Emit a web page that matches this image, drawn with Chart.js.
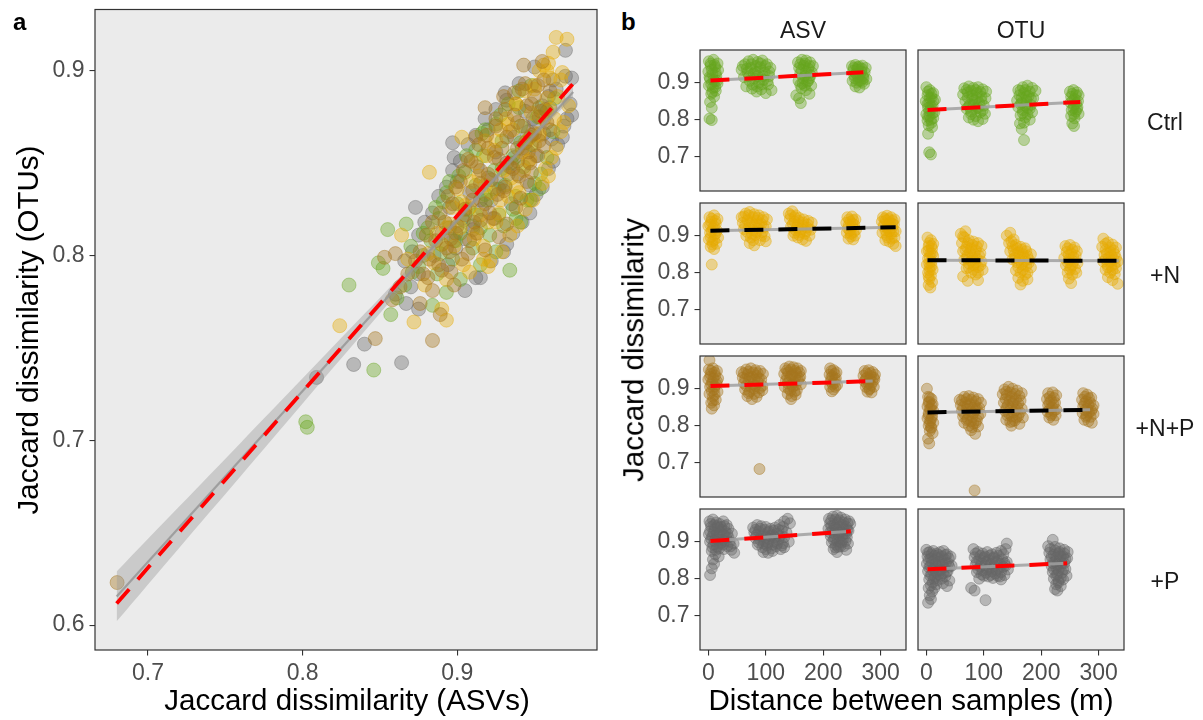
<!DOCTYPE html>
<html><head><meta charset="utf-8">
<script src="https://cdn.jsdelivr.net/npm/chart.js@4.4.0/dist/chart.umd.min.js"></script>
<style>
html,body{margin:0;padding:0;}
body{width:1203px;height:720px;background:#fff;position:relative;overflow:hidden;font-family:'Liberation Sans',Arial,Helvetica,sans-serif;}
canvas{position:absolute;}
.t{position:absolute;white-space:nowrap;line-height:1;z-index:5;}
.c{transform:translate(-50%,-50%);}
.r{transform:translate(-50%,-50%) rotate(-90deg);}
</style></head><body>
<div class="t" style="left:13px;top:9.7px;font-size:24px;font-weight:bold;color:#000;">a</div>
<div class="t" style="left:621px;top:9.5px;font-size:24px;font-weight:bold;color:#000;">b</div>
<div class="t c" style="left:347px;top:700px;font-size:29.5px;color:#000;">Jaccard dissimilarity (ASVs)</div>
<div class="t r" style="left:28px;top:330px;font-size:29.5px;color:#000;">Jaccard dissimilarity (OTUs)</div>
<div class="t r" style="left:633px;top:350px;font-size:29.5px;color:#000;">Jaccard dissimilarity</div>
<div class="t c" style="left:911px;top:700px;font-size:29.5px;color:#000;">Distance between samples (m)</div>
<div id="strips"></div>
<script>
// ---------------- labels ----------------
const markers = ['ASV', 'OTU'];
const treatments = ['Ctrl', '+N', '+N+P', '+P'];
const aXTicks = [0.7, 0.8, 0.9];
const aXTickLabels = ['0.7', '0.8', '0.9'];
const aYTicks = [0.6, 0.7, 0.8, 0.9];
const aYTickLabels = ['0.6', '0.7', '0.8', '0.9'];
const bXTicks = [0, 100, 200, 300];
const bXTickLabels = ['0', '100', '200', '300'];
const bYTicks = [0.7, 0.8, 0.9];
const bYTickLabels = ['0.7', '0.8', '0.9'];

// ---------------- panel a: [ASV, OTU] ----------------
const aCtrl = [[0.802,0.710],[0.803,0.707],[0.846,0.738],[0.830,0.784],[0.852,0.793],[0.849,0.796],[0.855,0.814],[0.867,0.817],[0.857,0.768],[0.934,0.792],[0.947,0.830],[0.953,0.836],[0.938,0.820],
 [0.861,0.777],[0.884,0.773],[0.866,0.784],[0.893,0.780],[0.871,0.791],[0.902,0.787],[0.887,0.790],[0.875,0.794],[0.897,0.798],[0.915,0.795],[0.870,0.805],[0.889,0.801],[0.910,0.804],[0.925,0.802],
 [0.878,0.812],[0.899,0.808],[0.921,0.811],[0.881,0.815],[0.904,0.819],[0.930,0.816],[0.941,0.818],[0.886,0.826],[0.912,0.822],[0.936,0.825],[0.891,0.829],[0.918,0.833],[0.945,0.830],
 [0.895,0.840],[0.924,0.836],[0.950,0.839],[0.901,0.843],[0.929,0.847],[0.954,0.844],[0.906,0.854],[0.935,0.850],[0.958,0.853],[0.912,0.857],[0.941,0.861],[0.918,0.868],[0.947,0.864],[0.962,0.867],
 [0.925,0.871],[0.952,0.875],[0.933,0.882],[0.958,0.878],[0.940,0.889],[0.963,0.885],[0.948,0.892],
 [0.893,0.834],[0.905,0.845],[0.917,0.854],[0.929,0.862],[0.941,0.870],[0.953,0.880],[0.888,0.820],[0.900,0.828],[0.912,0.838],[0.924,0.846],[0.936,0.854],[0.948,0.860],[0.883,0.808],[0.895,0.815],
 [0.907,0.825],[0.919,0.830],[0.931,0.838],[0.943,0.848],[0.878,0.800],[0.890,0.806],[0.902,0.812],[0.915,0.815],[0.927,0.822],[0.938,0.832],[0.916,0.866],[0.928,0.876],[0.940,0.880]];
const aN = [[0.964,0.918],[0.971,0.917],[0.953,0.900],[0.958,0.900],[0.959,0.904],[0.959,0.843],[0.903,0.864],[0.882,0.845],[0.864,0.811],[0.920,0.794],[0.917,0.798],[0.890,0.771],[0.893,0.765],[0.872,0.764],[0.824,0.762],
 [0.879,0.784],[0.893,0.787],[0.908,0.791],[0.868,0.798],[0.904,0.795],[0.921,0.797],[0.881,0.801],[0.917,0.805],[0.929,0.802],[0.887,0.812],[0.911,0.809],[0.934,0.811],
 [0.893,0.815],[0.920,0.818],[0.939,0.816],[0.897,0.826],[0.927,0.823],[0.944,0.825],[0.903,0.829],[0.933,0.832],[0.949,0.830],[0.909,0.840],[0.938,0.837],[0.955,0.839],
 [0.914,0.843],[0.943,0.846],[0.957,0.847],[0.919,0.854],[0.946,0.851],[0.961,0.853],[0.924,0.857],[0.950,0.860],[0.964,0.858],[0.928,0.868],[0.953,0.865],[0.967,0.867],
 [0.933,0.871],[0.956,0.874],[0.969,0.872],[0.938,0.882],[0.960,0.879],[0.972,0.881],[0.944,0.889],[0.965,0.886],[0.950,0.892],[0.967,0.895],[0.956,0.903],[0.968,0.899],[0.962,0.910],
 [0.900,0.836],[0.912,0.850],[0.925,0.862],[0.936,0.868],[0.948,0.877],[0.958,0.885],[0.905,0.827],[0.918,0.838],[0.930,0.846],[0.942,0.856],[0.953,0.866],[0.963,0.874],[0.895,0.817],[0.908,0.826],
 [0.922,0.834],[0.935,0.842],[0.947,0.852],[0.890,0.806],[0.902,0.815],[0.915,0.822],[0.928,0.830],[0.940,0.834],[0.885,0.796],[0.898,0.805],[0.912,0.812],[0.925,0.818],[0.938,0.882],[0.950,0.890],
 [0.960,0.896],[0.945,0.862],[0.932,0.874],[0.918,0.862]];
const aNP = [[0.680,0.623],[0.847,0.755],[0.884,0.754],[0.853,0.799],[0.860,0.801],[0.889,0.768],[0.943,0.903],[0.955,0.905],
 [0.858,0.776],[0.876,0.774],[0.863,0.783],[0.884,0.781],[0.898,0.784],[0.868,0.790],[0.881,0.788],[0.896,0.791],[0.873,0.797],[0.888,0.795],[0.903,0.798],
 [0.876,0.802],[0.893,0.804],[0.907,0.801],[0.918,0.803],[0.880,0.811],[0.896,0.809],[0.913,0.812],[0.927,0.810],[0.884,0.818],[0.900,0.816],[0.915,0.819],[0.932,0.817],
 [0.889,0.823],[0.905,0.825],[0.921,0.823],[0.938,0.826],[0.894,0.832],[0.910,0.830],[0.926,0.833],[0.941,0.831],[0.899,0.837],[0.915,0.839],[0.931,0.837],[0.945,0.840],
 [0.904,0.846],[0.920,0.844],[0.936,0.847],[0.948,0.845],[0.909,0.851],[0.924,0.853],[0.939,0.851],[0.952,0.854],[0.914,0.860],[0.929,0.858],[0.944,0.861],[0.956,0.859],
 [0.919,0.865],[0.934,0.867],[0.948,0.865],[0.960,0.868],[0.925,0.874],[0.939,0.872],[0.953,0.875],[0.931,0.879],[0.945,0.881],[0.957,0.879],[0.937,0.888],[0.950,0.886],[0.960,0.889],[0.944,0.893],[0.956,0.895],
 [0.892,0.818],[0.905,0.822],[0.918,0.828],[0.930,0.835],[0.940,0.843],[0.897,0.828],[0.910,0.835],[0.922,0.841],[0.934,0.848],[0.946,0.856],[0.902,0.840],[0.915,0.846],[0.927,0.852],[0.939,0.858],
 [0.950,0.866],[0.907,0.852],[0.920,0.858],[0.932,0.864],[0.943,0.870],[0.954,0.878],[0.912,0.864],[0.925,0.870],[0.937,0.876],[0.948,0.882],[0.886,0.808],[0.899,0.812],[0.911,0.818],[0.924,0.820],
 [0.882,0.798],[0.895,0.802],[0.908,0.808],[0.878,0.790],[0.890,0.792],[0.918,0.880],[0.930,0.886],[0.942,0.890],[0.952,0.892],[0.958,0.872],[0.953,0.862],[0.947,0.850]];
const aP = [[0.809,0.734],[0.833,0.741],[0.864,0.742],[0.840,0.752],[0.875,0.771],[0.867,0.774],[0.860,0.779],[0.873,0.826],[0.897,0.861],[0.898,0.853],[0.915,0.788],[0.932,0.806],[0.948,0.830],[0.970,0.911],[0.974,0.896],[0.970,0.897],[0.974,0.876],[0.969,0.870],[0.968,0.864],[0.961,0.863],
 [0.870,0.783],[0.905,0.781],[0.875,0.790],[0.912,0.788],[0.866,0.797],[0.894,0.795],[0.922,0.797],[0.871,0.802],[0.899,0.804],[0.930,0.802],[0.875,0.811],[0.905,0.809],[0.936,0.812],
 [0.879,0.818],[0.910,0.816],[0.942,0.818],[0.884,0.823],[0.916,0.825],[0.947,0.823],[0.888,0.832],[0.922,0.830],[0.951,0.833],[0.893,0.837],[0.928,0.839],[0.955,0.837],
 [0.897,0.846],[0.933,0.844],[0.959,0.847],[0.902,0.851],[0.937,0.853],[0.962,0.851],[0.907,0.860],[0.942,0.858],[0.965,0.860],[0.912,0.865],[0.946,0.867],
 [0.918,0.874],[0.950,0.872],[0.971,0.874],[0.925,0.879],[0.955,0.881],[0.973,0.882],[0.931,0.888],[0.959,0.886],[0.940,0.893],[0.962,0.895],[0.950,0.902],
 [0.895,0.826],[0.908,0.834],[0.920,0.842],[0.932,0.850],[0.944,0.858],[0.956,0.866],[0.900,0.840],[0.913,0.848],[0.925,0.856],[0.937,0.864],[0.949,0.874],[0.960,0.880],[0.890,0.812],[0.903,0.820],
 [0.915,0.830],[0.927,0.836],[0.939,0.844],[0.951,0.854],[0.885,0.800],[0.898,0.808],[0.910,0.814],[0.923,0.820],[0.935,0.828],[0.947,0.838],[0.920,0.868],[0.932,0.884],[0.944,0.878],[0.964,0.890]];
// fitted lines and confidence band (panel a)
const aRedLine = [[0.6797,0.6117],[0.975,0.893]];
const aGreyLine = [[0.6797,0.6155],[0.975,0.8885]];
const aBandX = [0.6797,0.72,0.76,0.80,0.84,0.88,0.915,0.95,0.975];
const aBandUpper = [0.6290,0.6640,0.6987,0.7335,0.7684,0.8034,0.8345,0.8672,0.8913];
const aBandLower = [0.6020,0.6416,0.6807,0.7199,0.7590,0.7980,0.8315,0.8636,0.8857];

// ---------------- panel b: [distance (m), Jaccard] ----------------
const bCtrlASV = [[1,0.958],[9,0.962],[16,0.952],[4,0.946],[12,0.942],[17,0.934],[0,0.930],[7,0.924],[14,0.918],[3,0.910],[11,0.904],[16,0.898],[1,0.892],[8,0.886],[13,0.878],[5,0.870],[10,0.862],[3,0.848],[6,0.832],[2,0.803],[6,0.799],
 [4,0.952],[11,0.948],[6,0.935],[13,0.926],[2,0.915],[9,0.908],[15,0.905],[5,0.896],[12,0.888],[7,0.875],
 [58,0.935],[64,0.950],[70,0.958],[78,0.962],[86,0.956],[94,0.960],[102,0.950],[108,0.940],[62,0.915],[68,0.928],[74,0.940],[82,0.930],[90,0.942],[98,0.928],[106,0.918],[72,0.905],[80,0.912],[88,0.900],[96,0.908],[104,0.895],[66,0.890],[76,0.884],[84,0.876],[92,0.882],[100,0.872],[110,0.880],[86,0.918],
 [60,0.945],[67,0.938],[75,0.950],[83,0.945],[91,0.952],[99,0.945],[106,0.930],[71,0.918],[79,0.925],[87,0.930],[95,0.918],[103,0.905],[77,0.895],[85,0.890],[93,0.895],
 [156,0.955],[163,0.962],[170,0.960],[177,0.955],[182,0.945],[158,0.940],[166,0.946],[174,0.938],[180,0.928],[160,0.925],[168,0.918],[176,0.912],[157,0.905],[164,0.898],[172,0.902],[179,0.892],[162,0.885],[170,0.880],[176,0.870],[153,0.866],[158,0.858],[161,0.845],
 [160,0.950],[168,0.952],[176,0.945],[162,0.935],[170,0.930],[178,0.920],[165,0.912],[174,0.905],[160,0.895],[168,0.892],
 [250,0.945],[256,0.948],[262,0.944],[268,0.946],[274,0.940],[252,0.932],[259,0.936],[266,0.930],[272,0.928],[254,0.920],[261,0.915],[269,0.918],[275,0.910],[251,0.905],[258,0.900],[265,0.905],[271,0.897],[256,0.890],[263,0.887],
 [253,0.940],[260,0.942],[267,0.938],[257,0.925],[264,0.922],[270,0.912],[255,0.912],[262,0.905],[268,0.902]];
const bCtrlOTU = [[0,0.888],[6,0.880],[12,0.872],[2,0.866],[9,0.860],[15,0.854],[-1,0.850],[5,0.845],[11,0.838],[3,0.832],[8,0.826],[14,0.820],[0,0.815],[6,0.810],[12,0.804],[2,0.798],[9,0.792],[4,0.785],[10,0.780],[3,0.762],[5,0.712],[8,0.706],
 [3,0.876],[9,0.870],[6,0.858],[12,0.850],[2,0.842],[8,0.836],[5,0.824],[11,0.818],[3,0.808],[8,0.800],
 [66,0.885],[74,0.890],[82,0.886],[90,0.888],[98,0.882],[104,0.876],[64,0.868],[72,0.874],[80,0.866],[88,0.872],[96,0.862],[103,0.858],[68,0.850],[76,0.842],[84,0.852],[92,0.845],[100,0.838],[70,0.830],[78,0.822],[86,0.830],[94,0.820],[102,0.816],[74,0.806],[82,0.800],[90,0.796],[98,0.802],
 [70,0.880],[78,0.878],[86,0.880],[94,0.875],[72,0.860],[80,0.856],[88,0.858],[96,0.850],[74,0.836],[82,0.840],[90,0.832],[98,0.825],[78,0.815],[86,0.810],
 [160,0.880],[168,0.888],[176,0.892],[184,0.886],[190,0.878],[162,0.866],[170,0.872],[178,0.864],[186,0.858],[158,0.852],[166,0.846],[174,0.852],[182,0.840],[160,0.834],[168,0.826],[176,0.832],[184,0.820],[164,0.812],[172,0.806],[180,0.800],[170,0.792],[163,0.790],[166,0.775],[170,0.745],
 [164,0.878],[172,0.880],[180,0.876],[166,0.858],[174,0.862],[182,0.856],[164,0.842],[172,0.838],[180,0.830],[168,0.818],[176,0.815],
 [250,0.876],[256,0.880],[262,0.874],[265,0.866],[252,0.862],[258,0.856],[264,0.850],[251,0.846],[257,0.840],[263,0.834],[253,0.826],[260,0.822],[265,0.816],[252,0.810],[258,0.804],[254,0.790],[257,0.783],
 [254,0.870],[260,0.866],[255,0.852],[261,0.844],[256,0.832],[262,0.828],[257,0.815]];
const bNASV = [[2,0.950],[10,0.955],[16,0.945],[5,0.938],[13,0.932],[0,0.926],[8,0.920],[15,0.914],[3,0.908],[11,0.902],[17,0.895],[1,0.890],[7,0.884],[14,0.878],[4,0.870],[10,0.864],[6,0.822],
 [6,0.946],[12,0.940],[3,0.930],[10,0.925],[6,0.912],[13,0.906],[4,0.896],[10,0.888],[7,0.876],
 [58,0.950],[65,0.960],[72,0.964],[80,0.958],[88,0.955],[96,0.950],[102,0.944],[60,0.935],[68,0.942],[76,0.935],[84,0.940],[92,0.932],[100,0.925],[62,0.918],[70,0.922],[78,0.915],[86,0.920],[94,0.910],[66,0.900],[74,0.895],[82,0.902],[90,0.888],[98,0.898],[72,0.880],[80,0.874],[100,0.885],
 [62,0.952],[70,0.955],[78,0.950],[86,0.948],[94,0.942],[64,0.928],[72,0.932],[80,0.928],[88,0.930],[96,0.922],[68,0.910],[76,0.905],[84,0.910],[92,0.900],[78,0.888],
 [140,0.960],[146,0.966],[152,0.955],[158,0.948],[166,0.944],[174,0.940],[180,0.935],[142,0.945],[150,0.938],[156,0.930],[164,0.928],[172,0.922],[178,0.916],[144,0.925],[152,0.915],[160,0.910],[168,0.905],[176,0.900],[148,0.900],[156,0.895],[164,0.890],[170,0.886],
 [143,0.955],[150,0.950],[157,0.940],[165,0.936],[173,0.930],[147,0.932],[154,0.922],[162,0.918],[170,0.912],[150,0.908],[158,0.902],
 [242,0.950],[250,0.952],[256,0.944],[240,0.935],[247,0.938],[254,0.930],[243,0.920],[250,0.924],[257,0.916],[241,0.908],[248,0.905],[255,0.900],[244,0.892],[252,0.890],
 [245,0.944],[252,0.942],[244,0.928],[251,0.932],[246,0.914],[253,0.910],[248,0.898],
 [304,0.950],[311,0.954],[318,0.950],[324,0.944],[302,0.938],[309,0.942],[316,0.936],[323,0.930],[305,0.925],[312,0.920],[320,0.922],[326,0.912],[303,0.908],[310,0.902],[318,0.905],[324,0.895],[308,0.888],[315,0.884],[322,0.878],[326,0.872],
 [307,0.946],[314,0.945],[321,0.940],[306,0.930],[313,0.930],[320,0.932],[308,0.915],[315,0.912],[322,0.912],[312,0.895],[319,0.892]];
const bNOTU = [[2,0.895],[8,0.888],[12,0.878],[4,0.872],[10,0.865],[1,0.858],[7,0.852],[12,0.845],[3,0.838],[9,0.830],[1,0.822],[6,0.815],[11,0.808],[3,0.800],[8,0.792],[5,0.783],[10,0.775],[4,0.767],[7,0.760],
 [5,0.880],[9,0.872],[4,0.860],[10,0.852],[6,0.842],[5,0.826],[9,0.818],[6,0.806],[4,0.790],
 [60,0.905],[68,0.912],[66,0.895],[74,0.888],[82,0.884],[90,0.880],[96,0.872],[62,0.880],[70,0.870],[78,0.866],[86,0.860],[94,0.852],[64,0.858],[72,0.848],[80,0.842],[88,0.838],[96,0.830],[66,0.835],[74,0.825],[82,0.820],[90,0.815],[98,0.808],[70,0.812],[78,0.800],[86,0.795],[64,0.790],[72,0.778],[90,0.780],
 [64,0.898],[72,0.880],[80,0.875],[88,0.870],[68,0.862],[76,0.856],[84,0.850],[92,0.845],[70,0.840],[78,0.832],[86,0.828],[94,0.820],[74,0.815],[82,0.808],[90,0.800],
 [140,0.900],[146,0.908],[152,0.890],[144,0.880],[150,0.872],[158,0.866],[166,0.862],[174,0.858],[182,0.850],[146,0.858],[154,0.850],[162,0.846],[170,0.842],[178,0.836],[150,0.836],[158,0.828],[166,0.822],[174,0.818],[182,0.814],[156,0.806],[164,0.800],[172,0.795],[160,0.786],[168,0.778],[176,0.782],[164,0.768],
 [148,0.885],[156,0.875],[164,0.870],[172,0.866],[152,0.860],[160,0.855],[168,0.850],[176,0.845],[154,0.840],[162,0.835],[170,0.830],[178,0.826],[160,0.815],[168,0.808],[176,0.800],
 [242,0.872],[250,0.875],[258,0.868],[262,0.858],[244,0.856],[252,0.852],[260,0.846],[240,0.840],[248,0.835],[256,0.830],[263,0.826],[243,0.820],[251,0.815],[259,0.810],[246,0.800],[254,0.795],[261,0.800],[248,0.784],[252,0.772],
 [246,0.866],[254,0.862],[248,0.848],[256,0.842],[246,0.828],[254,0.820],[250,0.808],
 [308,0.892],[316,0.882],[324,0.876],[330,0.868],[306,0.870],[312,0.862],[320,0.856],[328,0.850],[310,0.848],[318,0.842],[326,0.836],[333,0.830],[308,0.830],[315,0.822],[322,0.818],[330,0.812],[312,0.808],[320,0.800],[328,0.796],[316,0.788],[324,0.780],[333,0.770],
 [312,0.878],[320,0.868],[326,0.860],[314,0.852],[322,0.846],[330,0.840],[312,0.836],[320,0.830],[328,0.824],[316,0.815],[324,0.808]];
const bNPASV = [[2,0.977],[1,0.952],[8,0.955],[15,0.948],[4,0.940],[12,0.936],[17,0.928],[0,0.925],[7,0.918],[14,0.912],[3,0.905],[10,0.898],[16,0.892],[2,0.886],[8,0.878],[13,0.870],[5,0.862],[10,0.855],[6,0.846],
 [5,0.948],[11,0.944],[3,0.932],[9,0.928],[15,0.920],[5,0.912],[11,0.906],[6,0.894],[11,0.884],[8,0.868],
 [58,0.945],[66,0.952],[74,0.955],[82,0.950],[90,0.948],[95,0.940],[60,0.930],[68,0.938],[76,0.932],[84,0.935],[92,0.925],[62,0.915],[70,0.920],[78,0.912],[86,0.918],[94,0.908],[64,0.898],[72,0.892],[80,0.900],[88,0.890],[94,0.896],[68,0.880],[76,0.872],[84,0.878],[89,0.683],
 [62,0.942],[70,0.946],[78,0.944],[86,0.942],[64,0.926],[72,0.930],[80,0.925],[88,0.928],[66,0.908],[74,0.905],[82,0.908],[90,0.902],[70,0.888],[80,0.886],
 [134,0.955],[141,0.960],[148,0.958],[155,0.955],[161,0.948],[132,0.940],[139,0.944],[146,0.938],[153,0.942],[160,0.932],[135,0.922],[142,0.926],[149,0.918],[156,0.922],[161,0.912],[133,0.905],[140,0.900],[147,0.905],[154,0.896],[138,0.886],[145,0.880],[152,0.884],[144,0.872],
 [137,0.950],[144,0.952],[151,0.948],[158,0.944],[137,0.932],[144,0.935],[151,0.930],[158,0.928],[138,0.915],[145,0.912],[152,0.910],[143,0.895],[150,0.892],
 [212,0.955],[218,0.950],[223,0.944],[211,0.938],[216,0.934],[222,0.928],[213,0.920],[219,0.915],[224,0.910],[212,0.905],[218,0.898],[215,0.893],
 [214,0.948],[220,0.940],[214,0.930],[220,0.925],[216,0.912],[221,0.905],
 [272,0.948],[279,0.950],[286,0.945],[290,0.938],[270,0.935],[276,0.930],[283,0.934],[289,0.925],[272,0.920],[279,0.915],[286,0.918],[274,0.905],[281,0.900],[288,0.905],[277,0.892],[284,0.890],
 [275,0.942],[282,0.942],[274,0.926],[281,0.926],[288,0.930],[276,0.912],[283,0.910],[280,0.898]];
const bNPOTU = [[1,0.900],[3,0.878],[9,0.872],[5,0.865],[11,0.858],[2,0.852],[8,0.846],[12,0.840],[4,0.834],[10,0.826],[2,0.820],[7,0.814],[12,0.808],[4,0.800],[9,0.794],[6,0.786],[11,0.780],[3,0.765],[5,0.752],
 [6,0.876],[4,0.862],[9,0.855],[6,0.845],[4,0.828],[9,0.820],[6,0.808],[8,0.796],
 [58,0.870],[66,0.878],[74,0.880],[82,0.876],[90,0.872],[95,0.862],[60,0.856],[68,0.862],[76,0.858],[84,0.855],[92,0.848],[62,0.840],[70,0.845],[78,0.838],[86,0.842],[94,0.832],[64,0.825],[72,0.818],[80,0.824],[88,0.815],[66,0.808],[74,0.800],[82,0.806],[90,0.798],[78,0.788],[85,0.778],[84,0.625],
 [62,0.868],[70,0.872],[78,0.870],[86,0.866],[64,0.850],[72,0.854],[80,0.848],[88,0.846],[66,0.832],[74,0.830],[82,0.834],[90,0.826],[70,0.815],[78,0.812],[86,0.808],[80,0.796],
 [136,0.898],[143,0.905],[150,0.900],[158,0.895],[166,0.888],[133,0.885],[140,0.882],[148,0.878],[156,0.872],[164,0.868],[135,0.862],[142,0.856],[150,0.860],[158,0.850],[166,0.846],[137,0.840],[144,0.832],[152,0.836],[160,0.826],[168,0.822],[139,0.816],[146,0.810],[154,0.814],[162,0.805],[148,0.800],
 [139,0.892],[146,0.890],[154,0.886],[162,0.880],[138,0.872],[145,0.868],[152,0.866],[160,0.860],[140,0.850],[147,0.846],[155,0.842],[163,0.836],[141,0.828],[149,0.825],[157,0.822],[150,0.812],
 [212,0.888],[220,0.890],[226,0.882],[210,0.872],[217,0.868],[224,0.862],[212,0.855],[219,0.850],[226,0.844],[211,0.838],[218,0.832],[225,0.828],[214,0.822],[221,0.816],
 [215,0.878],[222,0.875],[214,0.862],[221,0.858],[215,0.845],[222,0.840],[217,0.828],
 [273,0.888],[280,0.884],[287,0.876],[271,0.870],[278,0.866],[285,0.862],[291,0.855],[273,0.852],[280,0.846],[287,0.840],[272,0.834],[279,0.828],[286,0.824],[291,0.832],[275,0.816],[282,0.812],[288,0.808],
 [276,0.878],[283,0.874],[275,0.860],[282,0.856],[289,0.846],[276,0.842],[283,0.836],[278,0.824]];
const bPASV = [[2,0.955],[8,0.960],[14,0.952],[20,0.948],[26,0.955],[32,0.945],[5,0.940],[11,0.934],[17,0.938],[23,0.932],[29,0.928],[35,0.935],[41,0.922],[1,0.920],[7,0.915],[13,0.910],[19,0.918],[25,0.905],[31,0.912],[37,0.900],[44,0.895],[3,0.900],[9,0.892],[15,0.886],[21,0.894],[27,0.880],[33,0.888],[40,0.878],[6,0.875],[12,0.866],[18,0.860],[45,0.870],[8,0.852],[10,0.840],[3,0.810],[6,0.828],
 [4,0.948],[10,0.945],[16,0.942],[22,0.940],[28,0.942],[3,0.928],[9,0.925],[15,0.922],[21,0.925],[27,0.918],[33,0.922],[5,0.908],[11,0.902],[17,0.905],[23,0.898],[29,0.902],[35,0.912],[7,0.885],[13,0.878],[19,0.882],[25,0.892],[39,0.888],
 [78,0.938],[85,0.945],[92,0.942],[100,0.940],[108,0.935],[116,0.938],[124,0.945],[132,0.955],[138,0.962],[142,0.950],[80,0.925],[88,0.928],[96,0.920],[104,0.925],[112,0.918],[120,0.922],[128,0.930],[136,0.925],[82,0.910],[90,0.905],[98,0.902],[106,0.908],[114,0.900],[122,0.905],[130,0.896],[140,0.900],[86,0.892],[94,0.885],[102,0.890],[110,0.882],[118,0.888],[126,0.880],[96,0.872],[104,0.870],[132,0.885],
 [82,0.932],[90,0.935],[98,0.932],[106,0.928],[114,0.930],[122,0.932],[130,0.940],[84,0.918],[92,0.915],[100,0.912],[108,0.915],[116,0.912],[124,0.915],[132,0.912],[88,0.898],[96,0.895],[104,0.898],[112,0.892],[120,0.895],[128,0.890],[100,0.880],[112,0.875],
 [210,0.962],[217,0.968],[224,0.970],[231,0.965],[238,0.960],[245,0.955],[212,0.950],[219,0.945],[226,0.952],[233,0.945],[240,0.940],[247,0.948],[209,0.935],[216,0.930],[223,0.935],[230,0.928],[237,0.922],[244,0.930],[213,0.915],[220,0.910],[227,0.918],[234,0.905],[241,0.912],[215,0.898],[222,0.892],[229,0.900],[236,0.888],[243,0.895],[218,0.880],[224,0.872],[226,0.886],[240,0.878],
 [214,0.958],[221,0.960],[228,0.958],[235,0.952],[242,0.950],[214,0.942],[221,0.938],[228,0.940],[235,0.935],[242,0.932],[212,0.925],[219,0.922],[226,0.925],[233,0.918],[240,0.922],[218,0.905],[225,0.902],[232,0.898],[239,0.902],[221,0.885],[230,0.888]];
const bPOTU = [[0,0.878],[6,0.872],[12,0.875],[18,0.868],[24,0.872],[30,0.875],[36,0.866],[42,0.860],[2,0.860],[8,0.855],[14,0.850],[20,0.856],[26,0.848],[32,0.852],[38,0.842],[44,0.835],[1,0.840],[7,0.835],[13,0.828],[19,0.832],[25,0.824],[31,0.830],[37,0.820],[3,0.820],[9,0.812],[15,0.806],[21,0.812],[27,0.800],[33,0.806],[40,0.795],[5,0.798],[11,0.790],[17,0.785],[29,0.788],[36,0.780],[4,0.775],[10,0.765],[6,0.755],[8,0.745],[3,0.735],
 [3,0.870],[9,0.866],[15,0.862],[21,0.864],[27,0.860],[33,0.864],[39,0.855],[4,0.850],[10,0.845],[16,0.840],[22,0.845],[28,0.838],[34,0.842],[40,0.832],[5,0.830],[11,0.822],[17,0.818],[23,0.822],[29,0.815],[35,0.818],[7,0.808],[13,0.800],[19,0.796],[25,0.808],[8,0.782],[14,0.775],
 [82,0.880],[90,0.872],[98,0.868],[106,0.872],[114,0.866],[122,0.870],[130,0.875],[138,0.880],[140,0.895],[84,0.858],[92,0.852],[100,0.856],[108,0.850],[116,0.855],[124,0.848],[132,0.852],[140,0.845],[86,0.838],[94,0.832],[102,0.836],[110,0.830],[118,0.834],[126,0.828],[134,0.832],[142,0.825],[88,0.818],[96,0.812],[104,0.816],[112,0.810],[120,0.814],[128,0.806],[136,0.810],[92,0.800],[116,0.802],[78,0.775],[84,0.768],[103,0.742],[130,0.798],
 [86,0.868],[94,0.862],[102,0.860],[110,0.862],[118,0.858],[126,0.862],[134,0.866],[88,0.846],[96,0.842],[104,0.845],[112,0.840],[120,0.845],[128,0.840],[136,0.842],[90,0.826],[98,0.822],[106,0.825],[114,0.820],[122,0.824],[130,0.818],[138,0.835],[100,0.808],[108,0.806],[124,0.808],
 [220,0.905],[212,0.888],[224,0.886],[232,0.882],[240,0.878],[246,0.872],[214,0.870],[222,0.865],[230,0.868],[238,0.860],[245,0.855],[216,0.852],[224,0.846],[232,0.850],[240,0.842],[218,0.835],[226,0.830],[234,0.834],[242,0.826],[220,0.818],[228,0.812],[236,0.816],[244,0.808],[222,0.800],[230,0.795],[238,0.798],[226,0.785],[234,0.780],[224,0.772],[228,0.768],
 [216,0.880],[224,0.876],[232,0.872],[240,0.868],[218,0.860],[226,0.856],[234,0.860],[242,0.852],[220,0.842],[228,0.838],[236,0.842],[222,0.825],[230,0.822],[238,0.825],[226,0.808],[234,0.802],[230,0.790]];
// fitted lines per facet: [start, end]
const bLineCtrlASV = [[3.6,0.906],[270,0.928]];
const bLineCtrlOTU = [[2,0.826],[268,0.848]];
const bLineNASV = [[3.6,0.9135],[326,0.923]];
const bLineNOTU = [[2,0.834],[335,0.832]];
const bLineNPASV = [[3.6,0.907],[286,0.9205]];
const bLineNPOTU = [[2,0.836],[285,0.843]];
const bLinePASV = [[3.6,0.9016],[248,0.928]];
const bLinePOTU = [[2,0.8257],[245,0.8416]];
const bLineSignif = ['red','red','black','black','red','black','red','red'];

// ---------------- styling ----------------
const treatColors = {'Ctrl':[102,166,30], '+N':[230,171,2], '+N+P':[166,118,29], '+P':[102,102,102]};
const rgba = (c, a) => `rgba(${c[0]},${c[1]},${c[2]},${a})`;
const toXY = arr => arr.map(p => ({x: p[0], y: p[1]}));

Chart.defaults.font.family = "'Liberation Sans', Arial, Helvetica, sans-serif";
Chart.defaults.animation = false;
Chart.defaults.plugins.legend.display = false;
Chart.defaults.plugins.tooltip.enabled = false;

const panelBox = {
  id: 'panelBox',
  beforeDraw(chart) {
    const {ctx, chartArea: a} = chart;
    ctx.save(); ctx.fillStyle = '#EBEBEB';
    ctx.fillRect(a.left, a.top, a.right - a.left, a.bottom - a.top); ctx.restore();
  },
  afterDraw(chart) {
    const {ctx, chartArea: a} = chart;
    ctx.save(); ctx.strokeStyle = '#333333'; ctx.lineWidth = 1.2;
    ctx.strokeRect(a.left, a.top, a.right - a.left, a.bottom - a.top); ctx.restore();
  }
};

function linScale(axis, min, max, tickVals, tickLabels, show, fitSize) {
  return {
    type: 'linear', min, max, display: show,
    afterBuildTicks: s => { s.ticks = tickVals.map(v => ({value: v})); },
    afterFit: s => {
      s.paddingLeft = 0; s.paddingRight = 0; s.paddingTop = 0; s.paddingBottom = 0;
      if (!show) return;
      if (axis === 'x') s.height = fitSize; else s.width = fitSize;
    },
    ticks: { font: {size: 23}, color: '#4D4D4D', padding: axis === 'x' ? 4 : 5,
             maxRotation: 0, autoSkip: false, callback: (v, i) => tickLabels[i] },
    grid: { display: true, drawOnChartArea: false, drawTicks: true, tickLength: 5.5,
            color: '#333333', lineWidth: 1.1, tickWidth: 1.1 },
    border: { display: false }
  };
}

function pointSet(arr, col, r, a) {
  return { type: 'scatter', data: toXY(arr), pointBackgroundColor: rgba(col, a),
           pointBorderColor: rgba(col, a + 0.03), pointBorderWidth: 1, pointRadius: r,
           pointHoverRadius: r, showLine: false, clip: 0 };
}
function lineSet(arr, color, width, dash) {
  return { type: 'line', data: toXY(arr), borderColor: color, borderWidth: width,
           borderDash: dash, borderCapStyle: 'butt', pointRadius: 0, fill: false,
           tension: 0, clip: 0 };
}

function makeChart(left, top, w, h, config) {
  const c = document.createElement('canvas');
  c.width = w; c.height = h;
  c.style.left = left + 'px'; c.style.top = top + 'px';
  c.style.width = w + 'px'; c.style.height = h + 'px';
  document.body.appendChild(c);
  config.options.responsive = false;
  config.options.devicePixelRatio = 1;
  config.plugins = [panelBox];
  return new Chart(c.getContext('2d'), config);
}

// ---------------- panel a ----------------
makeChart(0, 0, 605, 720, {
  type: 'scatter',
  data: { datasets: [
    lineSet(aRedLine, '#FF0000', 3.8, [19, 13]),
    lineSet(aGreyLine, 'rgba(150,150,150,0.85)', 2.2, []),
    { type: 'line', data: aBandX.map((x, i) => ({x, y: aBandUpper[i]})), borderWidth: 0,
      pointRadius: 0, fill: '+1', backgroundColor: 'rgba(153,153,153,0.4)', tension: 0.3, clip: 0 },
    { type: 'line', data: aBandX.map((x, i) => ({x, y: aBandLower[i]})), borderWidth: 0,
      pointRadius: 0, fill: false, tension: 0.3, clip: 0 },
    pointSet(aNP, treatColors['+N+P'], 7, 0.4),
    pointSet(aN, treatColors['+N'], 7, 0.38),
    pointSet(aCtrl, treatColors['Ctrl'], 7, 0.38),
    pointSet(aP, treatColors['+P'], 7, 0.38)
  ]},
  options: {
    layout: { padding: {left: 0, top: 9.5, right: 6, bottom: 0} },
    scales: {
      x: linScale('x', 0.6657, 0.9904, aXTicks, aXTickLabels, true, 70),
      y: linScale('y', 0.5865, 0.9331, aYTicks, aYTickLabels, true, 95)
    }
  }
});

// ---------------- panel b ----------------
const bData = [[bCtrlASV, bCtrlOTU], [bNASV, bNOTU], [bNPASV, bNPOTU], [bPASV, bPOTU]];
const bLines = [[bLineCtrlASV, bLineCtrlOTU], [bLineNASV, bLineNOTU], [bLineNPASV, bLineNPOTU], [bLinePASV, bLinePOTU]];
const rowTops = [50, 203, 356, 509];
const colLefts = [700, 918];
const panelW = 206, panelH = 141;

treatments.forEach((tr, r) => {
  markers.forEach((mk, c) => {
    const showY = c === 0, showX = r === 3;
    const ml = showY ? 70 : 10, mr = 10, mt = 10, mb = showX ? 40 : 10;
    const lineCol = bLineSignif[r * 2 + c] === 'red' ? '#FF0000' : '#000000';
    makeChart(colLefts[c] - ml, rowTops[r] - mt, ml + panelW + mr, mt + panelH + mb, {
      type: 'scatter',
      data: { datasets: [
        lineSet(bLines[r][c], lineCol, 4, [19, 15]),
        lineSet(bLines[r][c], 'rgba(160,160,160,0.85)', 3, []),
        pointSet(bData[r][c], treatColors[tr], 5.5, 0.4)
      ]},
      options: {
        layout: { padding: {left: showY ? 0 : 10, top: mt, right: mr, bottom: showX ? 0 : 10} },
        scales: {
          x: linScale('x', -14.5, 344, bXTicks, bXTickLabels, showX, 40),
          y: linScale('y', 0.6073, 0.9884, bYTicks, bYTickLabels, showY, 70)
        }
      }
    });
  });
});

// strip labels
const strips = document.getElementById('strips');
function addText(txt, x, y, size, color) {
  const d = document.createElement('div');
  d.className = 't c'; d.textContent = txt;
  d.style.left = x + 'px'; d.style.top = y + 'px';
  d.style.fontSize = size + 'px'; d.style.color = color;
  strips.appendChild(d);
}
markers.forEach((m, c) => addText(m, colLefts[c] + panelW / 2, 30, 23, '#1A1A1A'));
treatments.forEach((t, r) => addText(t, 1165, rowTops[r] + panelH / 2 + 1, 23, '#1A1A1A'));
</script>
</body></html>
